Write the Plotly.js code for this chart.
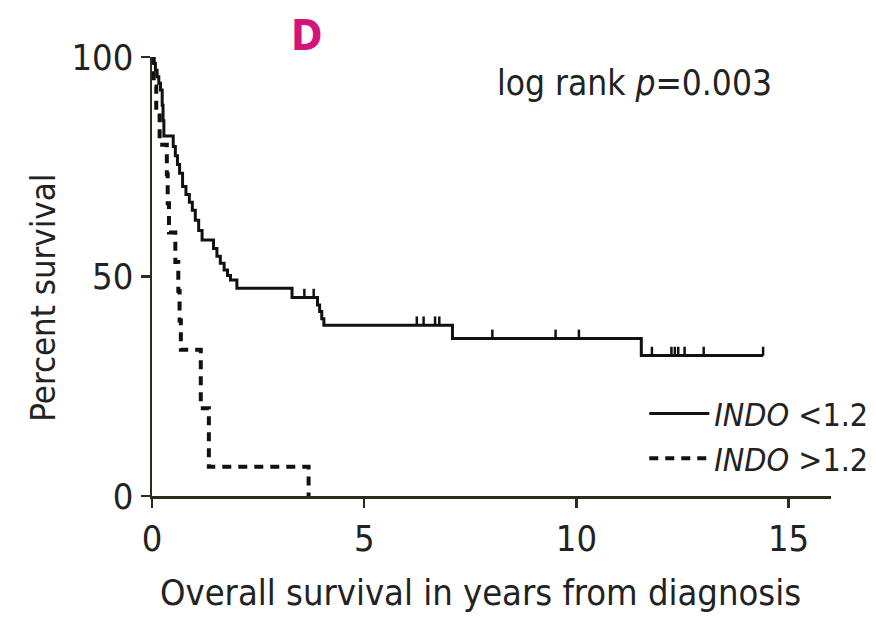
<!DOCTYPE html>
<html>
<head>
<meta charset="utf-8">
<script src="https://cdn.plot.ly/plotly-3.0.1.min.js"></script>
<style>html,body{margin:0;padding:0;background:#fff;}#chart{width:876px;height:619px;}</style>
</head>
<body>
<div id="chart"></div>
<script>
// INDO < 1.2 (solid) Kaplan-Meier steps
const lowTimes = [0, 0.04, 0.08, 0.12, 0.16, 0.2, 0.24, 0.26, 0.28, 0.5, 0.55, 0.6, 0.65, 0.72, 0.8, 0.88, 0.95, 1.02, 1.1, 1.18, 1.45, 1.53, 1.61, 1.7, 1.78, 1.85, 2.0, 3.3, 3.9, 3.95, 4.0, 4.05, 7.08, 11.53, 14.4];
const lowSurv  = [100, 98.5, 97, 95.5, 94, 92.5, 89, 85.5, 82, 79.6, 77.5, 75.5, 73.5, 70.5, 68.7, 66.9, 65.1, 62.8, 60.5, 58.3, 56.4, 54.6, 53, 51.5, 50.2, 49.2, 47.3, 45.2, 43.5, 42, 40.4, 38.9, 35.9, 32.0, 32.0];
// censored observations, INDO < 1.2
const lowCensorTimes = [3.59, 3.81, 6.24, 6.40, 6.67, 6.77, 8.02, 9.51, 10.06, 11.78, 12.24, 12.32, 12.40, 12.55, 13.0, 14.4];
const lowCensorSurv  = [45.2, 45.2, 38.9, 38.9, 38.9, 38.9, 35.9, 35.9, 35.9, 32.0, 32.0, 32.0, 32.0, 32.0, 32.0, 32.0];

// INDO > 1.2 (dashed) Kaplan-Meier steps
const highTimes = [0, 0.04, 0.1, 0.18, 0.35, 0.37, 0.4, 0.55, 0.62, 0.65, 0.68, 1.15, 1.34, 3.69];
const highSurv  = [100, 93.3, 86.7, 80, 73.3, 66.7, 60, 53.3, 46.7, 40, 33.3, 20, 6.67, 0];

const xTicks = [0, 5, 10, 15];
const yTicks = [0, 50, 100];

const FONT = '"DejaVu Sans Condensed", "DejaVu Sans", Arial, sans-serif';
const INK = '#111';
const AX = '#2b2b1e';

const traces = [
  {
    x: lowTimes, y: lowSurv, type: 'scatter', mode: 'lines',
    line: {shape: 'hv', color: INK, width: 3},
    name: '<i>INDO</i> &lt;1.2', showlegend: true
  },
  {
    x: highTimes, y: highSurv, type: 'scatter', mode: 'lines',
    line: {shape: 'hv', color: INK, width: 4, dash: '9px,7px'},
    name: '<i>INDO</i> &gt;1.2', showlegend: true
  },
  {
    x: lowCensorTimes, y: lowCensorSurv, type: 'scatter', mode: 'markers',
    marker: {size: 1, color: INK},
    error_y: {type: 'data', symmetric: false, array: lowCensorTimes.map(() => 2.0), arrayminus: lowCensorTimes.map(() => 0), width: 0, thickness: 2.5, color: INK},
    showlegend: false, hoverinfo: 'skip'
  }
];

const layout = {
  width: 876, height: 619,
  margin: {l: 151.5, r: 45, t: 57, b: 123, autoexpand: false},
  paper_bgcolor: '#fff', plot_bgcolor: '#fff',
  font: {family: FONT, color: '#222', size: 32},
  showlegend: true,
  legend: {
    x: 0.725, y: 0.25, xanchor: 'left', yanchor: 'top',
    font: {family: FONT, size: 32, color: '#222'},
    bgcolor: 'rgba(0,0,0,0)', tracegroupgap: 0, itemwidth: 60
  },
  xaxis: {
    range: [0, 16], tickvals: xTicks, ticktext: xTicks.map(String),
    showgrid: false, zeroline: false, showline: true, linecolor: AX, linewidth: 2.5,
    ticks: 'outside', ticklen: 9, tickwidth: 2.5, tickcolor: AX,
    tickfont: {family: FONT, size: 36, color: '#222'}
  },
  yaxis: {
    range: [0, 100], tickvals: yTicks, ticktext: yTicks.map(String),
    showgrid: false, zeroline: false, showline: true, linecolor: AX, linewidth: 2.5,
    ticks: 'outside', ticklen: 9, tickwidth: 2.5, tickcolor: AX,
    tickfont: {family: FONT, size: 36, color: '#222'}
  },
  annotations: [
    {text: 'Overall survival in years from diagnosis', xref: 'paper', yref: 'paper', x: 0.4834, y: -0.219,
     xanchor: 'center', yanchor: 'middle', showarrow: false, font: {family: FONT, size: 36, color: '#222'}},
    {text: 'Percent survival', xref: 'paper', yref: 'paper', x: -0.161, y: 0.451, textangle: -90,
     xanchor: 'center', yanchor: 'middle', showarrow: false, font: {family: FONT, size: 34.5, color: '#222'}},
    {text: '<b>D</b>', xref: 'paper', yref: 'paper', x: 0.228, y: 1.048, xanchor: 'center', yanchor: 'middle',
     showarrow: false, font: {family: FONT, size: 42, color: '#d4137b'}},
    {text: 'log rank <i>p</i>=0.003', xref: 'paper', yref: 'paper', x: 0.71, y: 0.94, xanchor: 'center', yanchor: 'middle',
     showarrow: false, font: {family: FONT, size: 35, color: '#222'}}
  ]
};

Plotly.newPlot('chart', traces, layout, {displayModeBar: false, staticPlot: true});
</script>
</body>
</html>
